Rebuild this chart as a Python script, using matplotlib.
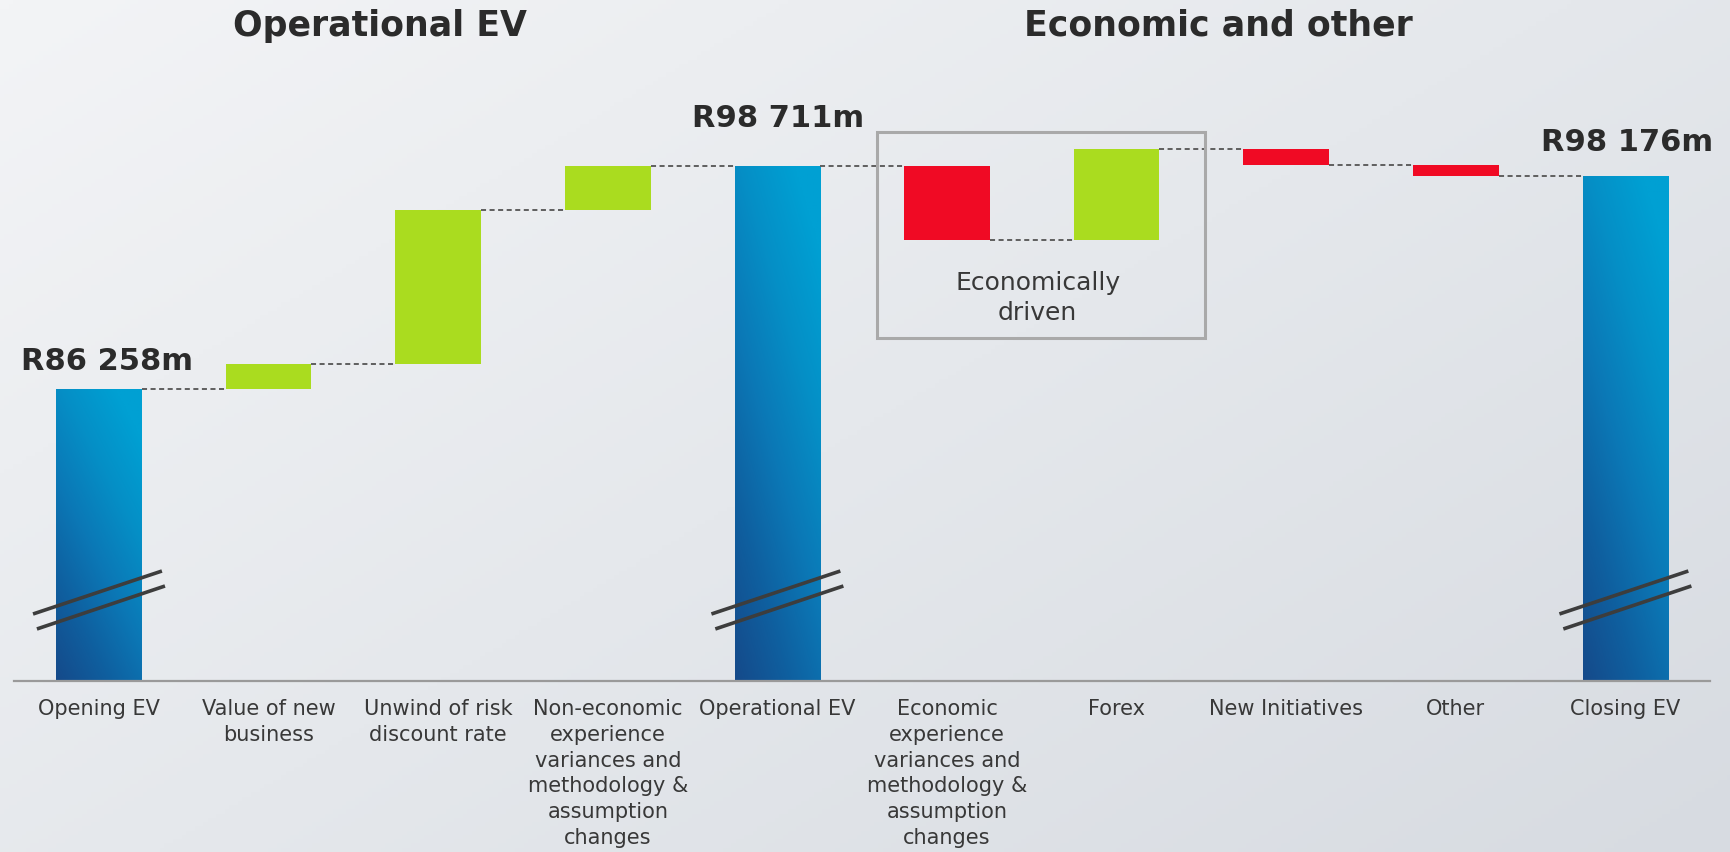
import numpy as np
import matplotlib
matplotlib.use("Agg")
import matplotlib.pyplot as plt
import matplotlib.transforms as mtransforms
from matplotlib.colors import LinearSegmentedColormap
from matplotlib.patches import Rectangle

# ---- data (R million) ----
categories = [
    "Opening EV",
    "Value of new\nbusiness",
    "Unwind of risk\ndiscount rate",
    "Non-economic\nexperience\nvariances and\nmethodology &\nassumption\nchanges",
    "Operational EV",
    "Economic\nexperience\nvariances and\nmethodology &\nassumption\nchanges",
    "Forex",
    "New Initiatives",
    "Other",
    "Closing EV",
]
kinds = ["total", "delta", "delta", "delta", "total",
         "delta", "delta", "delta", "delta", "total"]
values = [86258, 1396, 8599, 2458, 98711, -4132, 5081, -893, -591, 98176]
section_titles = ["Operational EV", "Economic and other"]
group_label = "Economically\ndriven"
group_members = [5, 6]

# ---- styling ----
GREEN = "#aadc1f"
RED = "#f00a24"
TEXT = "#383838"
TITLE = "#2b2b2b"
W, H, DPI = 1731, 852, 100
bar_w = 0.505
y_floor, y_ceil = 69953, 107980

fig = plt.figure(figsize=(W / DPI, H / DPI), dpi=DPI)

# background wash
bg = fig.add_axes([0, 0, 1, 1], zorder=0)
gx, gy = np.meshgrid(np.linspace(0, 1, 400), np.linspace(0, 1, 200))
bg_cmap = LinearSegmentedColormap.from_list("bg", ["#f3f4f6", "#e5e8ec", "#d7dbe1"])
bg.imshow(0.55 * gx + 0.45 * gy, cmap=bg_cmap, aspect="auto",
          extent=(0, 1, 0, 1), origin="upper", vmin=0, vmax=1)
bg.set_axis_off()

ax = fig.add_axes([14.2 / W, (H - 681) / H, 1696 / W, 681 / H], zorder=1)
ax.patch.set_alpha(0)
x = np.arange(len(categories))

blue_cmap = LinearSegmentedColormap.from_list(
    "ev", ["#154a8a", "#0f5f9f", "#0b78b6", "#058fc6", "#00a0d3"])
bu, bv = np.meshgrid(np.linspace(0, 1, 60), np.linspace(1, 0, 200))
blue_grad = np.clip(0.4 * bu + 0.72 * bv, 0, 1)

blend = mtransforms.blended_transform_factory(ax.transData, ax.transAxes)

level = 0
levels = []
for i, (k, v) in enumerate(zip(kinds, values)):
    if k == "total":
        bottom, top = y_floor, v
        level = v
        patch = ax.bar(x[i], top - bottom, bottom=bottom, width=bar_w,
                       color="#0a86bf", linewidth=0, zorder=2)[0]
        im = ax.imshow(blue_grad, cmap=blue_cmap, vmin=0, vmax=1, aspect="auto",
                       extent=(x[i] - bar_w / 2, x[i] + bar_w / 2, bottom, top),
                       zorder=3)
        im.set_clip_path(patch)
        # axis-break marks
        for (x0, y0, x1, y1) in [(-0.389, 0.0984, 0.371, 0.1615),
                                 (-0.366, 0.0764, 0.389, 0.1395)]:
            ax.plot([x[i] + x0, x[i] + x1], [y0, y1], color="#3d3d3d",
                    lw=2.6, solid_capstyle="butt", transform=blend, zorder=5)
    else:
        bottom, top = sorted([level, level + v])
        ax.bar(x[i], top - bottom, bottom=bottom, width=bar_w,
               color=GREEN if v > 0 else RED, linewidth=0, zorder=3)
        level += v
    levels.append(level)

# dashed connectors between neighbouring bars
for i in range(len(categories) - 1):
    ax.plot([x[i] + bar_w / 2, x[i + 1] - bar_w / 2], [levels[i], levels[i]],
            color="#5f5f5f", lw=1.4, linestyle=(0, (2.6, 1.8)), zorder=4)

# value labels on the totals
label_offsets = {0: (8, 19), 4: (1, 39), 9: (2, 25)}
for i, k in enumerate(kinds):
    if k == "total":
        dx, dy = label_offsets[i]
        txt = "R{:,.0f}m".format(values[i]).replace(",", " ")
        ax.annotate(txt, (x[i], values[i]), xytext=(dx * 0.72, dy * 0.72),
                    textcoords="offset points", ha="center", va="baseline",
                    fontsize=22, fontweight="bold", color=TITLE, zorder=6)

# category labels under the baseline
for i, c in enumerate(categories):
    ax.annotate(c, (x[i], 0), xycoords=("data", "axes fraction"),
                xytext=(0, -18 * 0.72), textcoords="offset points",
                ha="center", va="top", fontsize=15, color=TEXT,
                linespacing=1.36, annotation_clip=False)

# box around the economically driven items
bx0 = x[group_members[0]] - bar_w / 2 - 0.16
bx1 = x[group_members[-1]] + bar_w / 2 + 0.27
ax.add_patch(Rectangle((bx0, 0.5037), bx1 - bx0, 0.806 - 0.5037, transform=blend,
                       fill=False, edgecolor="#a9a9a9", lw=2.2, zorder=4))
ax.text((bx0 + bx1) / 2 - 0.02, 0.602, group_label, transform=blend,
        ha="center", va="top", fontsize=18, color=TEXT, linespacing=1.3, zorder=6)

# section headings
fig.text(380 / W, 1 - 36 / H, section_titles[0], ha="center", va="baseline",
         fontsize=25, fontweight="bold", color=TITLE)
fig.text(1218 / W, 1 - 36 / H, section_titles[1], ha="center", va="baseline",
         fontsize=25, fontweight="bold", color=TITLE)

ax.set_xlim(-0.5, 9.5)
ax.set_ylim(y_floor, y_ceil)
for s in ["top", "left", "right"]:
    ax.spines[s].set_visible(False)
ax.spines["bottom"].set_color("#9a9a9a")
ax.spines["bottom"].set_linewidth(1.6)
ax.spines["bottom"].set_zorder(6)
ax.set_xticks([])
ax.set_yticks([])

fig.savefig("out.png", dpi=DPI)
